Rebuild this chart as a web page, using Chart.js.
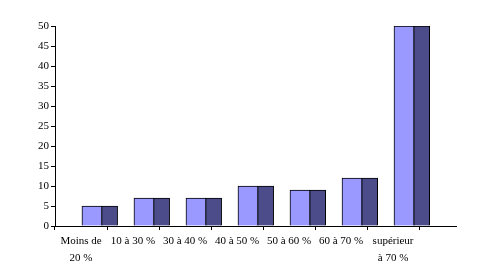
<!DOCTYPE html>
<html>
<head>
<meta charset="utf-8">
<script src="https://cdn.jsdelivr.net/npm/chart.js@4/dist/chart.umd.min.js"></script>
<style>
    html, body { margin: 0; padding: 0; background: #fff; }
    #wrap { width: 483px; height: 274px; }
</style>
</head>
<body>
<div id="wrap"><canvas id="chart" width="483" height="274"></canvas></div>
<script>
    'use strict';

    const CATEGORIES = [
        ['Moins de', '20 %'],
        '10 à 30 %',
        '30 à 40 %',
        '40 à 50 %',
        '50 à 60 %',
        '60 à 70 %',
        ['supérieur', 'à 70 %'],
    ];
    const SERIES_A = [5, 7, 7, 10, 9, 12, 50];
    const SERIES_B = [5, 7, 7, 10, 9, 12, 50];
    const Y_TICKS = [0, 5, 10, 15, 20, 25, 30, 35, 40, 45, 50];

    const FONT = { family: '"Liberation Serif", "Times New Roman", serif', size: 11, lineHeight: 1.5 };

    // the axis runs a bit past the last category, bars sit right of the label centre
    const X_MIN = -0.5;
    const X_MAX = 7.21;
    const SHIFT_A = 0.21;
    const SHIFT_B = 0.55;

    function points(values) {
        return values.map(function (v, i) {
            return { x: i, y: v };
        });
    }

    function hiddenAxis(shift) {
        return { type: 'linear', display: false, offset: false, min: X_MIN - shift, max: X_MAX - shift };
    }

    new Chart(document.getElementById('chart'), {
        type: 'bar',
        data: {
            datasets: [{
                data: points(SERIES_A),
                xAxisID: 'xa',
                backgroundColor: '#9999ff',
                borderColor: '#000',
                borderWidth: 1,
                barThickness: 20,
                grouped: false,
            }, {
                data: points(SERIES_B),
                xAxisID: 'xb',
                backgroundColor: '#4c4c8a',
                borderColor: '#000',
                borderWidth: 1,
                barThickness: 16,
                grouped: false,
            }],
        },
        options: {
            responsive: false,
            animation: false,
            layout: { padding: { top: 26, right: 27, left: 0, bottom: 0 } },
            plugins: { legend: { display: false }, tooltip: { enabled: false } },
            scales: {
                x: {
                    type: 'linear',
                    position: 'bottom',
                    offset: false,
                    min: X_MIN,
                    max: X_MAX,
                    afterBuildTicks: function (scale) {
                        scale.ticks = CATEGORIES.map(function (c, i) { return { value: i }; });
                    },
                    afterFit: function (scale) { scale.height = 48; },
                    ticks: {
                        autoSkip: false,
                        maxRotation: 0,
                        padding: 3,
                        color: '#000',
                        font: FONT,
                        callback: function (value) { return CATEGORIES[value]; },
                    },
                    grid: {
                        offset: true,
                        drawOnChartArea: false,
                        tickLength: 4,
                        color: '#000',
                    },
                    border: { color: '#000', width: 1 },
                },
                xa: hiddenAxis(SHIFT_A),
                xb: hiddenAxis(SHIFT_B),
                y: {
                    min: 0,
                    max: 50,
                    afterBuildTicks: function (scale) {
                        scale.ticks = Y_TICKS.map(function (v) { return { value: v }; });
                    },
                    afterFit: function (scale) { scale.width = 55; },
                    ticks: { padding: 2, color: '#000', font: FONT },
                    grid: { drawOnChartArea: false, tickLength: 4, color: '#000' },
                    border: { color: '#000', width: 1 },
                },
            },
        },
    });
</script>
</body>
</html>
